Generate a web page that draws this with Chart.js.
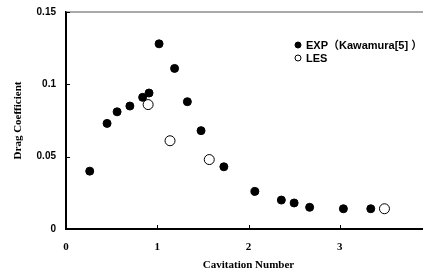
<!DOCTYPE html>
<html>
<head>
<meta charset="utf-8">
<script src="https://cdn.jsdelivr.net/npm/chart.js@4"></script>
<style>
  html, body { margin: 0; padding: 0; background: #fff; overflow: hidden; }
  #wrap { width: 423px; height: 272px; overflow: hidden; }
</style>
</head>
<body>
<div id="wrap"><canvas id="drag-chart" width="432" height="272"></canvas></div>
<script>
// data
const exp_x = [0.26, 0.45, 0.56, 0.70, 0.84, 0.91, 1.02, 1.19, 1.33, 1.48, 1.73, 2.07, 2.36, 2.50, 2.67, 3.04, 3.34]
const exp_y = [0.040, 0.073, 0.081, 0.085, 0.091, 0.094, 0.128, 0.111, 0.088, 0.068, 0.043, 0.026, 0.020, 0.018, 0.015, 0.014, 0.014]
const les_x = [0.90, 1.14, 1.57, 3.49]
const les_y = [0.086, 0.061, 0.048, 0.014]

const x_ticks = ['0', '1', '2', '3']
const y_ticks = ['0', '0.05', '0.1', '0.15']
const series_names = ['EXP\uFF08Kawamura[5] \uFF09', 'LES']

const black = "#000"
const frame_grey = "#8c8c8c"
const serif = '"Liberation Serif", "Times New Roman", serif'
const sans = '"Liberation Sans", Arial, "Noto Sans CJK JP", sans-serif'

function to_points(xs, ys) {
    return xs.map((x, i) => ({x: x, y: ys[i]}))
}

// inward tick marks, grey top border and the small legend box
const frame_plugin = {
    id: 'frame',
    afterDraw(chart) {
        const ctx = chart.ctx
        const area = chart.chartArea
        const xs = chart.scales.x
        const ys = chart.scales.y
        ctx.save()
        ctx.strokeStyle = frame_grey
        ctx.lineWidth = 1.5
        ctx.beginPath()
        ctx.moveTo(area.left, area.top)
        ctx.lineTo(area.right, area.top)
        ctx.stroke()

        ctx.strokeStyle = black
        ctx.lineWidth = 1
        xs.ticks.forEach((t) => {
            if (t.value <= 0) return
            const px = Math.round(xs.getPixelForValue(t.value)) + 0.5
            ctx.beginPath()
            ctx.moveTo(px, area.bottom)
            ctx.lineTo(px, area.bottom - 4)
            ctx.stroke()
        })
        ys.ticks.forEach((t) => {
            if (t.value <= 0) return
            const py = Math.round(ys.getPixelForValue(t.value)) + 0.5
            ctx.beginPath()
            ctx.moveTo(area.left, py)
            ctx.lineTo(area.left + 4, py)
            ctx.stroke()
        })

        // legend
        const lx = area.left + 232
        const ly = area.top + 33
        ctx.font = 'bold 11px ' + sans
        ctx.textBaseline = 'middle'
        ctx.fillStyle = black
        chart.data.datasets.forEach((ds, i) => {
            const y = ly + i * 13
            ctx.beginPath()
            ctx.arc(lx, y, 3, 0, Math.PI * 2)
            ctx.fillStyle = ds.backgroundColor
            ctx.fill()
            ctx.strokeStyle = black
            ctx.lineWidth = 1
            ctx.stroke()
            ctx.fillStyle = black
            ctx.fillText(ds.label, lx + 8, y + 0.5)
        })
        ctx.restore()
    }
}

new Chart(document.getElementById('drag-chart'), {
    type: 'scatter',
    data: {
        datasets: [{
            label: series_names[0],
            data: to_points(exp_x, exp_y),
            backgroundColor: black,
            borderColor: black,
            borderWidth: 1,
            pointRadius: 4,
        }, {
            label: series_names[1],
            data: to_points(les_x, les_y),
            backgroundColor: '#fff',
            borderColor: black,
            borderWidth: 1,
            pointRadius: 5,
        }]
    },
    options: {
        responsive: false,
        animation: false,
        layout: {
            autoPadding: false,
            padding: {top: 12, right: 1, left: 0, bottom: 0}
        },
        plugins: {
            legend: {display: false},
            tooltip: {enabled: false},
        },
        scales: {
            x: {
                type: 'linear',
                min: 0,
                max: 4,
                afterFit(scale) {
                    scale.height = 43
                    scale.paddingLeft = 0
                    scale.paddingRight = 0
                },
                ticks: {
                    stepSize: 1,
                    padding: 12,
                    color: black,
                    font: {family: serif, size: 11, weight: 'bold'},
                    callback: (v) => x_ticks[v] !== undefined ? x_ticks[v] : '',
                },
                grid: {drawOnChartArea: false, drawTicks: false},
                border: {color: black, width: 2},
                title: {
                    display: true,
                    text: 'Cavitation Number',
                    color: black,
                    font: {family: serif, size: 11, weight: 'bold'},
                    padding: {top: 0, bottom: 0},
                },
            },
            y: {
                min: 0,
                max: 0.15,
                afterFit(scale) {
                    scale.width = 66
                    scale.paddingTop = 0
                    scale.paddingBottom = 0
                },
                ticks: {
                    stepSize: 0.05,
                    padding: 10,
                    color: black,
                    font: {family: sans, size: 10, weight: 'bold'},
                    callback: (v, i) => y_ticks[i],
                },
                grid: {drawOnChartArea: false, drawTicks: false},
                border: {color: black, width: 2},
                title: {
                    display: true,
                    text: 'Drag Coefficient',
                    color: black,
                    font: {family: serif, size: 11, weight: 'bold'},
                    padding: {top: 12, bottom: 12},
                },
            },
        },
    },
    plugins: [frame_plugin]
});
</script>
</body>
</html>
